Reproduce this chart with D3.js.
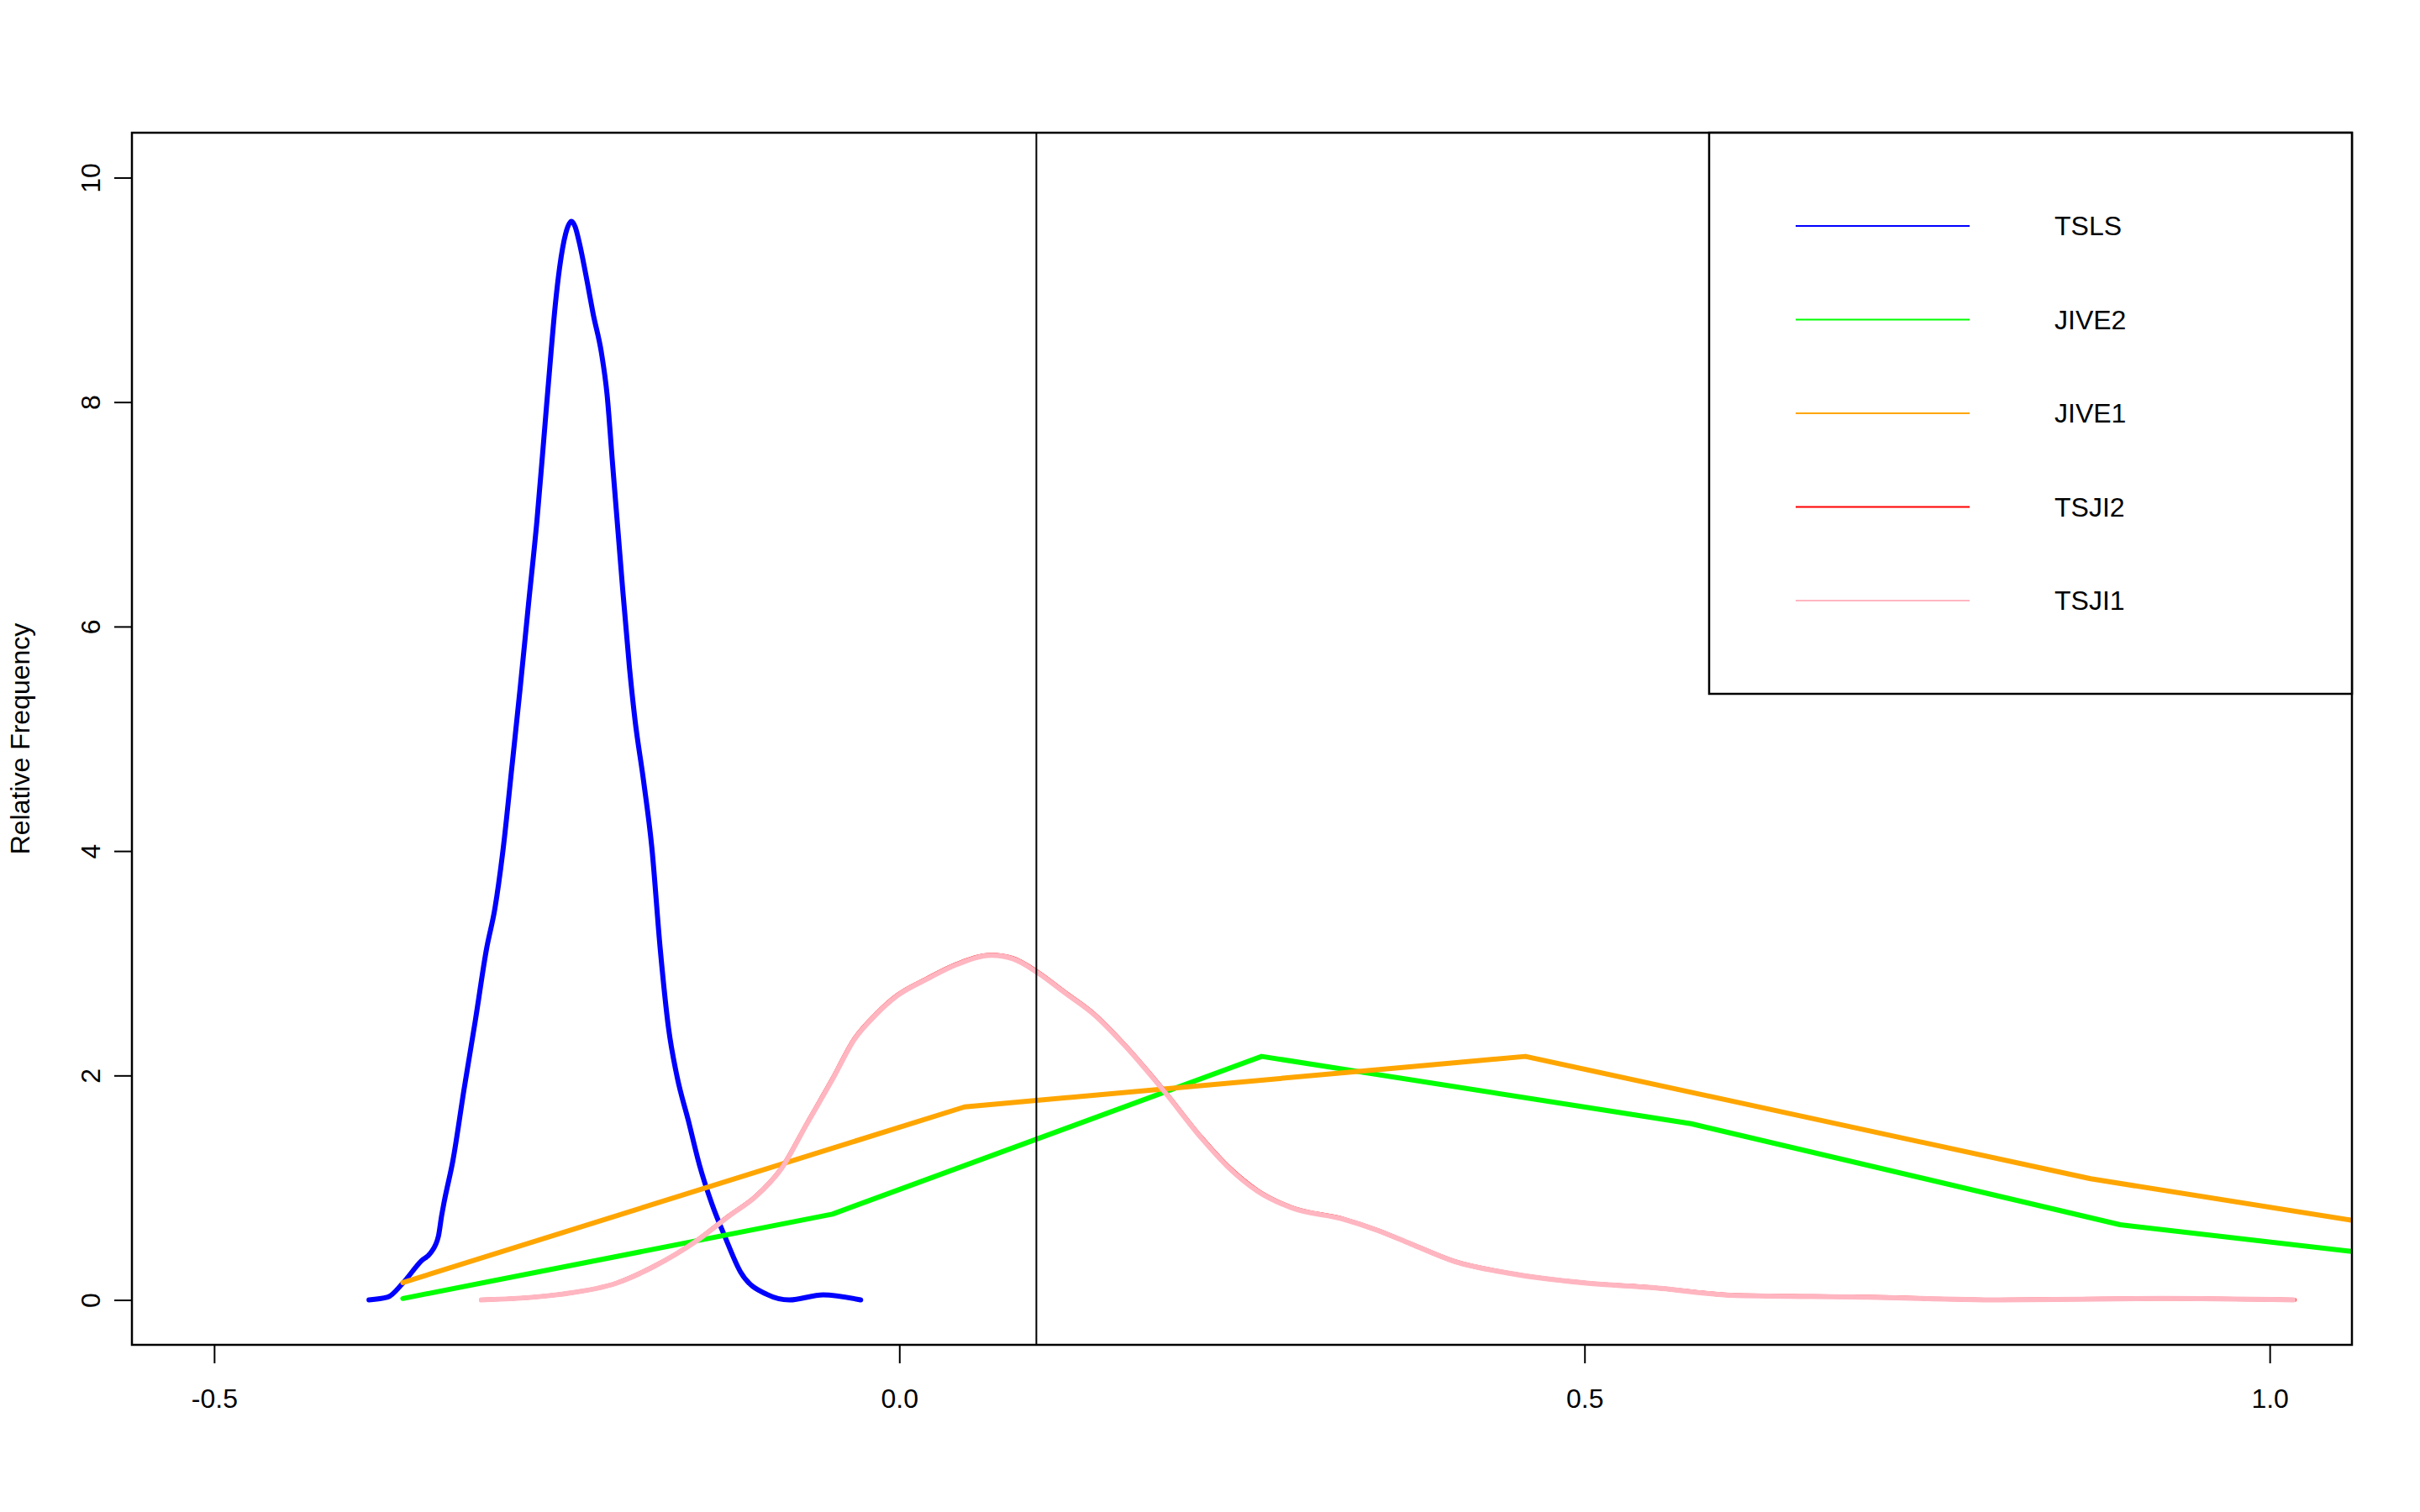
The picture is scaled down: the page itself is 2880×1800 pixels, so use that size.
<!DOCTYPE html>
<html>
<head>
<meta charset="utf-8">
<script src="https://cdn.jsdelivr.net/npm/d3@7"></script>
<style>
html,body{margin:0;padding:0;background:#fff;}
svg{display:block;font-family:"Liberation Sans",Arial,Helvetica,sans-serif;}
</style>
</head>
<body>
<svg id="chart" width="2880" height="1800"></svg>
<script>
// ---- Data ----
const seriesNames = ["TSLS", "JIVE2", "JIVE1", "TSJI2", "TSJI1"];
const seriesColors = ["#0000ff", "#00ff00", "#ffa500", "#ff0000", "#ffb6c1"];

// TSLS density [x, relative frequency]
const tslsData = [
  [-0.387,0],[-0.3733,0.025],[-0.3623,0.15],[-0.3487,0.35],[-0.342,0.42],[-0.3363,0.57],
  [-0.334,0.75],[-0.3322,0.87],[-0.3258,1.24],[-0.3176,1.88],[-0.3094,2.49],[-0.3012,3.13],
  [-0.2951,3.49],[-0.289,4.03],[-0.2828,4.74],[-0.2767,5.45],[-0.2706,6.2],[-0.2644,6.95],
  [-0.2593,7.69],[-0.2542,8.44],[-0.2511,8.86],[-0.248,9.19],[-0.2435,9.5],[-0.2393,9.61],
  [-0.2365,9.56],[-0.2337,9.43],[-0.2276,9.06],[-0.2235,8.79],[-0.2174,8.44],[-0.2133,8.07],
  [-0.2092,7.44],[-0.2051,6.82],[-0.202,6.35],[-0.1969,5.63],[-0.1929,5.17],[-0.1867,4.63],
  [-0.1806,4.03],[-0.1745,3.13],[-0.1684,2.42],[-0.1622,1.99],[-0.154,1.6],[-0.1458,1.2],
  [-0.1366,0.85],[-0.1268,0.55],[-0.1159,0.25],[-0.0967,0.05],[-0.0802,0.0],[-0.0556,0.045],
  [-0.0282,0.0]
];

// JIVE2 frequency polygon
const jive2Data = [
  [-0.3623,0.013],[-0.0488,0.765],[0.2644,2.17],[0.5778,1.57],[0.8908,0.67],[1.204,0.23]
];

// JIVE1 frequency polygon
const jive1Data = [
  [-0.3623,0.155],[0.0476,1.72],[0.4568,2.17],[0.8693,1.08],[1.279,0.285]
];

// TSJI2 density (almost identical to TSJI1, drawn underneath)
const tsji2Data = [
  [-0.3051,0],[-0.2474,0.05],[-0.2064,0.15],[-0.1789,0.301],[-0.1488,0.521],[-0.1241,0.752],
  [-0.105,0.922],[-0.0862,1.172],[-0.0675,1.573],[-0.0487,1.974],[-0.033,2.325],[-0.0173,2.545],
  [-0.0017,2.715],[0.0203,2.865],[0.0422,2.995],[0.0672,3.075],[0.0829,3.045],[0.1018,2.915],
  [0.1205,2.745],[0.1425,2.545],[0.1644,2.275],[0.1926,1.875],[0.2207,1.445],[0.2395,1.195],
  [0.2614,0.975],[0.2865,0.823],[0.324,0.722],[0.349,0.621],[0.3731,0.501],[0.4059,0.341],
  [0.4441,0.241],[0.5014,0.151],[0.5492,0.111],[0.6113,0.041],[0.7069,0.026],[0.8024,0.001],
  [0.9219,0.013],[1.0182,0.0]
];

// TSJI1 density
const tsji1Data = [
  [-0.305,0],[-0.2473,0.05],[-0.2063,0.15],[-0.1788,0.3],[-0.1487,0.52],[-0.124,0.75],
  [-0.1049,0.92],[-0.0861,1.17],[-0.0674,1.57],[-0.0486,1.97],[-0.0329,2.32],[-0.0172,2.54],
  [-0.0016,2.71],[0.0203,2.86],[0.0422,2.99],[0.0672,3.07],[0.0828,3.04],[0.1017,2.91],
  [0.1204,2.74],[0.1424,2.54],[0.1643,2.27],[0.1925,1.87],[0.2206,1.44],[0.2394,1.19],
  [0.2613,0.97],[0.2864,0.82],[0.3239,0.72],[0.3489,0.62],[0.373,0.5],[0.4058,0.34],
  [0.444,0.24],[0.5013,0.15],[0.5491,0.11],[0.6112,0.04],[0.7068,0.025],[0.8023,0.0],
  [0.9218,0.013],[1.0174,0.0]
];

const xTicks = [-0.5, 0.0, 0.5, 1.0];
const xTickLabels = ["-0.5", "0.0", "0.5", "1.0"];
const yTicks = [0, 2, 4, 6, 8, 10];
const yTickLabels = ["0", "2", "4", "6", "8", "10"];
const refLineX = 0.1;
const yAxisTitle = "Relative Frequency";

// ---- Layout ----
const svg = d3.select("#chart");
const L = 157, R = 2799, T = 158, B = 1601;
const x = d3.scaleLinear().domain([-0.56, 1.06]).range([L, R]);
const y = d3.scaleLinear().domain([-0.4, 10.4]).range([B, T]);

svg.append("defs").append("clipPath").attr("id", "plotclip")
  .append("rect").attr("x", L).attr("y", T).attr("width", R - L).attr("height", B - T);

const plot = svg.append("g").attr("clip-path", "url(#plotclip)");

const smooth = d3.line().x(d => x(d[0])).y(d => y(d[1])).curve(d3.curveMonotoneX);
const poly = d3.line().x(d => x(d[0])).y(d => y(d[1]));

const seriesData = [tslsData, jive2Data, jive1Data, tsji2Data, tsji1Data];
const seriesCurve = [smooth, poly, poly, smooth, smooth];
const seriesWidth = [6, 6, 6, 5, 6];

seriesData.forEach((data, i) => {
  plot.append("path")
    .attr("d", seriesCurve[i](data))
    .attr("fill", "none")
    .attr("stroke", seriesColors[i])
    .attr("stroke-width", seriesWidth[i])
    .attr("stroke-linejoin", "round")
    .attr("stroke-linecap", "round");
});

// vertical reference line
plot.append("line")
  .attr("x1", x(refLineX)).attr("x2", x(refLineX))
  .attr("y1", T).attr("y2", B)
  .attr("stroke", "#000").attr("stroke-width", 2);

// ---- Axes ----
const xAxis = d3.axisBottom(x).tickValues(xTicks)
  .tickFormat((d, i) => xTickLabels[i]).tickSizeOuter(0).tickSizeInner(22).tickPadding(30);
const gx = svg.append("g").attr("transform", `translate(0,${B})`).call(xAxis);
gx.select(".domain").remove();
gx.selectAll(".tick line").attr("stroke", "#000").attr("stroke-width", 2);
gx.selectAll(".tick text").attr("font-size", 32).attr("fill", "#000")
  .attr("font-family", '"Liberation Sans",Arial,sans-serif');

const yAxis = d3.axisLeft(y).tickValues(yTicks)
  .tickFormat((d, i) => yTickLabels[i]).tickSizeOuter(0).tickSizeInner(21);
const gy = svg.append("g").attr("transform", `translate(${L},0)`).call(yAxis);
gy.select(".domain").remove();
gy.selectAll(".tick line").attr("stroke", "#000").attr("stroke-width", 2);
gy.selectAll(".tick text")
  .attr("font-size", 32).attr("fill", "#000")
  .attr("font-family", '"Liberation Sans",Arial,sans-serif')
  .attr("x", null).attr("dy", null)
  .attr("text-anchor", "middle")
  .attr("transform", "translate(-49,0) rotate(-90)")
  .attr("dominant-baseline", "central");

// y axis title
svg.append("text")
  .attr("transform", `translate(24,${(T + B) / 2}) rotate(-90)`)
  .attr("text-anchor", "middle")
  .attr("dominant-baseline", "central")
  .attr("font-size", 32)
  .attr("fill", "#000")
  .text(yAxisTitle);

// plot box
svg.append("rect")
  .attr("x", L).attr("y", T).attr("width", R - L).attr("height", B - T)
  .attr("fill", "none").attr("stroke", "#000").attr("stroke-width", 2.5);

// ---- Legend ----
const legX = 2034, legTop = T, legBottom = 826;
const legend = svg.append("g");
legend.append("rect")
  .attr("x", legX).attr("y", legTop).attr("width", R - legX).attr("height", legBottom - legTop)
  .attr("fill", "#fff").attr("stroke", "#000").attr("stroke-width", 2.5);

const rowY = d3.scalePoint().domain(seriesNames).range([269, 715]);
seriesNames.forEach((name, i) => {
  legend.append("line")
    .attr("x1", 2137).attr("x2", 2344)
    .attr("y1", rowY(name)).attr("y2", rowY(name))
    .attr("stroke", seriesColors[i]).attr("stroke-width", 2);
  legend.append("text")
    .attr("x", 2445).attr("y", rowY(name))
    .attr("dominant-baseline", "central")
    .attr("font-size", 32).attr("fill", "#000")
    .text(name);
});
</script>
</body>
</html>
